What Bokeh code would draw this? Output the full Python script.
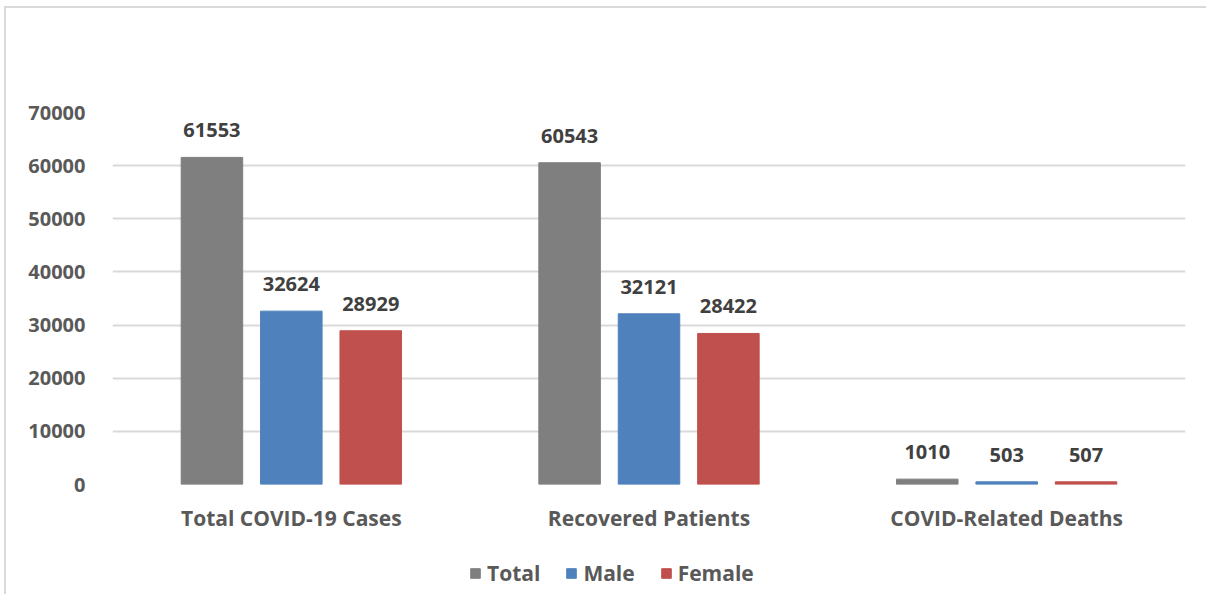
from bokeh.plotting import figure
from bokeh.layouts import column
from bokeh.models import (ColumnDataSource, FactorRange, Range1d, Legend, LegendItem,
                          NumeralTickFormatter, FixedTicker)
from bokeh.transform import dodge
from bokeh.core.properties import value
from bokeh.embed import file_html
from bokeh.resources import INLINE

# COVID-19 summary by sex
categories = ["Total COVID-19 Cases", "Recovered Patients", "COVID-Related Deaths"]
total = [61553, 60543, 1010]
male = [32624, 32121, 503]
female = [28929, 28422, 507]
y_ticks = [0, 10000, 20000, 30000, 40000, 50000, 60000, 70000]

series_names = ["Total", "Male", "Female"]
series_colors = ["#7f7f7f", "#4f81bd", "#c0504d"]
offsets = [-0.222, 0.0, 0.222]
bar_width = 0.172

FONT = "Open Sans"
TEXT_GREY = "#595959"
WIDTH = 1200

src = ColumnDataSource(dict(
    cat=categories,
    Total=total, Male=male, Female=female,
    Total_lbl=[str(v) for v in total],
    Male_lbl=[str(v) for v in male],
    Female_lbl=[str(v) for v in female],
))

# main bar chart
p = figure(
    x_range=FactorRange(*categories, range_padding=0),
    y_range=Range1d(0, 70000),
    width=WIDTH, height=536,
    output_backend="svg", toolbar_location=None,
    min_border_left=106, min_border_right=21,
    min_border_top=104, min_border_bottom=60,
)
p.outline_line_color = None
p.background_fill_color = "white"
p.border_fill_color = "white"

for name, color, off in zip(series_names, series_colors, offsets):
    p.vbar(x=dodge("cat", off, range=p.x_range), top=name, width=bar_width,
           source=src, fill_color=color, line_color=color)
    # value label above each bar
    p.text(x=dodge("cat", off, range=p.x_range), y=name, text=name + "_lbl",
           source=src, text_align="center", text_baseline="middle",
           y_offset=-27, text_font=value(FONT), text_font_style="bold",
           text_font_size="20px", text_color="#404040")

p.yaxis.ticker = FixedTicker(ticks=y_ticks)
p.yaxis.formatter = NumeralTickFormatter(format="0")
for ax in (p.xaxis, p.yaxis):
    ax.axis_line_color = None
    ax.major_tick_line_color = None
    ax.minor_tick_line_color = None
p.yaxis.major_label_text_font = FONT
p.yaxis.major_label_text_font_style = "bold"
p.yaxis.major_label_text_font_size = "20px"
p.yaxis.major_label_text_color = TEXT_GREY
p.yaxis.major_label_standoff = 21

p.xaxis.major_label_text_font = FONT
p.xaxis.major_label_text_font_style = "bold"
p.xaxis.major_label_text_font_size = "21px"
p.xaxis.major_label_text_color = TEXT_GREY
p.xaxis.major_label_standoff = 13

p.xgrid.grid_line_color = None
p.ygrid.grid_line_color = "#d9d9d9"
p.ygrid.grid_line_width = 2

# legend strip underneath the chart (frame aligned with the chart's frame)
lg = figure(width=WIDTH, height=50, x_range=Range1d(0, 1), y_range=Range1d(0, 1),
            output_backend="svg", toolbar_location=None,
            min_border=0, min_border_left=0, min_border_right=0,
            min_border_top=0, min_border_bottom=0)
lg.axis.visible = False
lg.grid.visible = False
lg.outline_line_color = None
lg.border_fill_color = "white"

# swatch renderers lie outside the visible ranges; only their legend glyphs show
swatches = [lg.vbar(x=[-5], bottom=[-6], top=[-5], width=0.1, fill_color=c, line_color=c)
            for c in series_colors]
legend = Legend(
    items=[LegendItem(label=n, renderers=[r]) for n, r in zip(series_names, swatches)],
    orientation="horizontal", location=(357, 7),
    glyph_width=12, glyph_height=12, label_standoff=6, spacing=25, padding=0, margin=0,
    label_text_font=FONT, label_text_font_style="bold", label_text_font_size="21px",
    label_text_color=TEXT_GREY, border_line_color=None, background_fill_alpha=0,
)
lg.add_layout(legend, "center")

layout = column(p, lg, spacing=0)
layout.styles = {"margin-left": "4px", "margin-top": "6px",
                 "border-left": "2px solid #d9d9d9", "border-top": "2px solid #d9d9d9"}

open("out.html", "w").write(file_html(layout, INLINE))
